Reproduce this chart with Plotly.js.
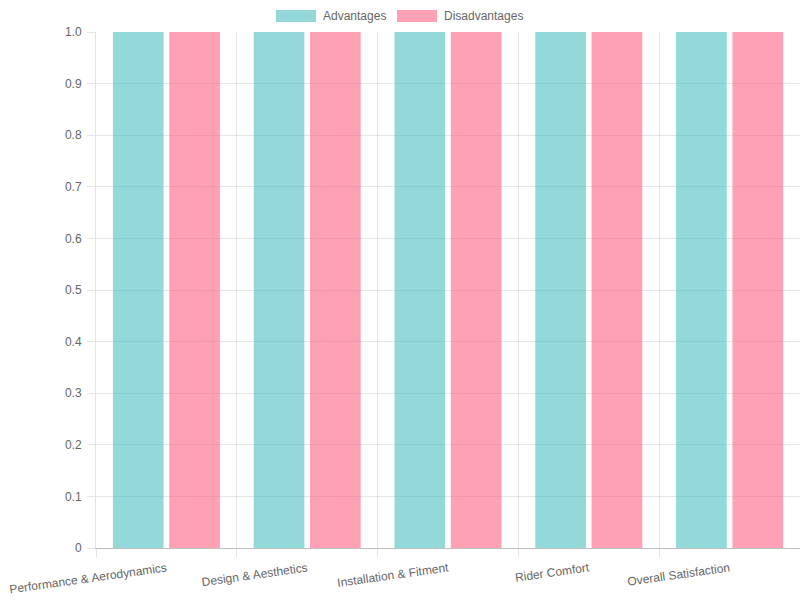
<!DOCTYPE html>
<html>
<head>
<meta charset="utf-8">
<script src="https://cdn.plot.ly/plotly-3.0.1.min.js"></script>
<style>html,body{margin:0;padding:0;background:#fff;}#chart{width:800px;height:600px;}</style>
</head>
<body>
<div id="chart"></div>
<script>
const categories = ["Performance & Aerodynamics", "Design & Aesthetics", "Installation & Fitment", "Rider Comfort", "Overall Satisfaction"];
const advantages = [1, 1, 1, 1, 1];
const disadvantages = [1, 1, 1, 1, 1];
const seriesNames = ["Advantages", "Disadvantages"];
const seriesColors = ["rgba(75,192,192,0.6)", "rgba(255,99,132,0.6)"];
const yTickVals = [0, 0.1, 0.2, 0.3, 0.4, 0.5, 0.6, 0.7, 0.8, 0.9, 1.0];
const yTickText = ["0", "0.1", "0.2", "0.3", "0.4", "0.5", "0.6", "0.7", "0.8", "0.9", "1.0"];

const font = {family: "Liberation Sans, Arial, sans-serif", size: 12, color: "#666"};
const traces = [
  {type: "bar", name: seriesNames[0], x: categories, y: advantages,
   width: 0.36, offset: -0.38,
   marker: {color: seriesColors[0], line: {width: 0}}, hoverinfo: "x+y"},
  {type: "bar", name: seriesNames[1], x: categories, y: disadvantages,
   width: 0.36, offset: 0.02,
   marker: {color: seriesColors[1], line: {width: 0}}, hoverinfo: "x+y"}
];

// Chart.js-style legend (40x12 boxes) drawn in paper coordinates
const L = 96, R = 800, T = 32, B = 548;
const px = v => (v - L) / (R - L);
const py = v => (B - v) / (B - T);
const legendBoxX = [276, 397];
const shapes = [], annotations = [];
seriesNames.forEach((n, i) => {
  shapes.push({type: "rect", xref: "paper", yref: "paper",
    x0: px(legendBoxX[i]), x1: px(legendBoxX[i] + 40), y0: py(22), y1: py(10),
    fillcolor: seriesColors[i], line: {width: 0}});
  annotations.push({xref: "paper", yref: "paper", x: px(legendBoxX[i] + 45), y: py(16),
    xanchor: "left", yanchor: "middle", showarrow: false, text: n, font: font});
});

const layout = {
  width: 800, height: 600,
  margin: {l: L, r: 800 - R, t: T, b: 600 - B, pad: 0},
  paper_bgcolor: "#fff", plot_bgcolor: "#fff",
  font: font,
  barmode: "group",
  showlegend: false,
  shapes: shapes, annotations: annotations,
  xaxis: {
    type: "category", tickson: "boundaries", showgrid: true,
    gridcolor: "rgba(0,0,0,0.1)", gridwidth: 1,
    ticks: "outside", ticklen: 8, tickcolor: "rgba(0,0,0,0.1)",
    tickangle: -8, tickfont: font, automargin: false, ticklabelstandoff: 8,
    showline: true, linecolor: "rgba(0,0,0,0.25)", linewidth: 1,
    zeroline: false, fixedrange: true
  },
  yaxis: {
    range: [0, 1], tickvals: yTickVals, ticktext: yTickText,
    showgrid: true, gridcolor: "rgba(0,0,0,0.1)", gridwidth: 1,
    ticks: "outside", ticklen: 8, tickcolor: "rgba(0,0,0,0.1)",
    tickfont: font, ticklabelstandoff: 3, automargin: false,
    showline: true, linecolor: "rgba(0,0,0,0.1)", linewidth: 1,
    zeroline: false, fixedrange: true
  }
};
Plotly.newPlot("chart", traces, layout, {displayModeBar: false, responsive: false});
</script>
</body>
</html>
